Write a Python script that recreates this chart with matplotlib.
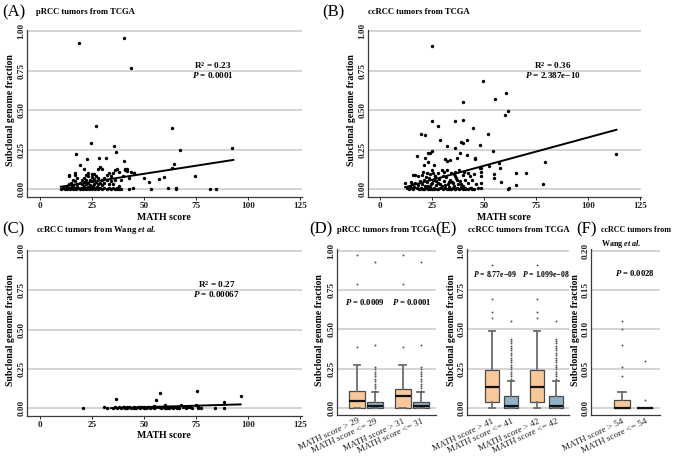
import matplotlib
matplotlib.use("Agg")
import matplotlib.pyplot as plt

plt.rcParams.update({
    "font.family": "Liberation Serif",
    "font.weight": "bold",
    "mathtext.fontset": "custom",
    "mathtext.rm": "Liberation Serif:bold",
    "mathtext.it": "Liberation Serif:italic:bold",
    "mathtext.bf": "Liberation Serif:bold",
})

# ---------------- data: scatter panels (MATH score vs subclonal fraction) ----------------
a_x = [18.9, 40.5, 43.8, 26.8, 63.6, 24.7, 35.7, 36.7, 17.3, 67.5, 92.5, 22.6, 28.5, 31.7,
       40.5, 64.4, 63.6, 74.5, 59.8, 57.4, 52.6, 49.8, 45.2, 40.9, 41.7, 81.6, 84.5, 53.5,
       61.5, 65.4, 65.4, 44.9, 42.6,
       10, 11, 12, 12.5, 13, 13.5, 14, 14.5, 15, 15.5, 16, 16.5, 17, 17.5, 18, 18.5, 19, 19.5,
       20, 20.5, 21, 21.5, 22, 22.5, 23, 23.5, 24, 24.5, 25, 25.5, 26, 26.5, 27, 27.5, 28, 28.5,
       29, 30, 31, 32, 33, 34, 35, 36, 37, 38, 39, 16, 18, 20, 22, 24, 26, 28, 30, 19, 21, 23,
       25, 27, 29, 17, 13, 14, 15, 20, 22, 24, 26, 28, 30, 32, 34, 21, 23, 25, 27, 18, 16, 14,
       14, 17, 17, 22, 23, 25, 26, 28, 29, 30, 32, 33, 35, 36, 37, 38, 40, 41, 42, 43, 44, 45,
       19, 21, 31, 35, 37, 38, 36, 34, 31, 33, 39]
a_y = [0.928, 0.960, 0.768, 0.399, 0.390, 0.289, 0.272, 0.232, 0.222, 0.249, 0.259, 0.190,
       0.200, 0.200, 0.181, 0.160, 0.131, 0.082, 0.074, 0.063, 0.042, 0.072, 0.103, 0.127,
       0.116, 0.0, 0.0, 0.0, 0.010, 0.008, 0.0, 0.010, 0.0,
       0.0, 0.005, 0.0, 0.01, 0.0, 0.005, 0.01, 0.0, 0.005, 0.02, 0.0, 0.01, 0.005, 0.0, 0.015,
       0.005, 0.0, 0.01, 0.005, 0.0, 0.02, 0.01, 0.0, 0.005, 0.015, 0.0, 0.01, 0.005, 0.0, 0.02,
       0.01, 0.0, 0.005, 0.015, 0.0, 0.01, 0.005, 0.0, 0.01, 0.0, 0.005, 0.0, 0.01, 0.0, 0.005,
       0.0, 0.0, 0.025, 0.03, 0.035, 0.03, 0.025, 0.035, 0.03, 0.025, 0.04, 0.045, 0.04, 0.05,
       0.045, 0.04, 0.05, 0.02, 0.035, 0.04, 0.06, 0.055, 0.06, 0.065, 0.07, 0.06, 0.055, 0.05,
       0.07, 0.08, 0.075, 0.085, 0.07, 0.06, 0.08, 0.09, 0.09, 0.10, 0.09, 0.10, 0.095, 0.095,
       0.13, 0.14, 0.13, 0.09, 0.10, 0.10, 0.12, 0.13, 0.11, 0.08, 0.12, 0.13, 0.07, 0.11, 0.10,
       0.15, 0.13, 0.07, 0.03, 0.0, 0.02, 0.06, 0.08, 0.04, 0.03, 0.06]
a_fit_x = [10, 93]
a_fit_y = [0.015, 0.185]

b_x = [25.0, 49.3, 60.3, 39.9, 55.1, 60.0, 61.6, 25.0, 27.9, 19.8, 21.8, 35.9, 39.9, 44.8,
       29.0, 38.7, 39.6, 41.8, 47.9, 31.9, 35.9, 51.6, 17.9, 23.1, 24.7, 23.9, 38.4, 41.8,
       45.5, 45.5, 31.1, 32.3, 33.5, 36.7, 21.8, 22.8, 21.1, 26.1, 16.7, 16.0, 20.7, 22.3,
       24.7, 25.5, 26.3, 29.5, 30.7, 35.5, 36.2, 40.3, 42.3, 45.2, 47.9, 11.8, 48.7, 43.5,
       41.0, 48.7, 54.4, 79.2, 113.5, 65.3, 65.3, 78.4, 58.3, 62.1, 61.3, 57.0, 57.6, 54.9,
       54.9, 52.5, 48.7, 48.7, 48.7, 70.0,
       13, 14, 14.5, 15, 15.5, 16, 16.5, 17, 17.5, 18, 18.5, 19, 19.5, 20, 20.5, 21, 21.5, 22,
       22.5, 23, 23.5, 24, 24.5, 25, 25.5, 26, 26.5, 27, 27.5, 28, 28.5, 29, 29.5, 30, 30.5,
       31, 31.5, 32, 32.5, 33, 33.5, 34, 34.5, 35, 35.5, 36, 36.5, 37, 37.5, 38, 38.5, 39, 40,
       41, 42, 43, 44, 45, 46, 47, 18, 20, 22, 24, 26, 28, 30, 32, 34, 36, 38, 40, 23, 25, 27,
       29, 31, 33, 35, 37, 39, 41, 43, 19, 21, 24, 26, 28, 33, 36, 40, 44, 42, 39, 15]
b_y = [0.907, 0.688, 0.610, 0.551, 0.570, 0.468, 0.492, 0.43, 0.40, 0.35, 0.34, 0.43, 0.44,
       0.39, 0.308, 0.30, 0.289, 0.308, 0.28, 0.272, 0.262, 0.348, 0.209, 0.23, 0.24, 0.23,
       0.226, 0.215, 0.196, 0.188, 0.188, 0.177, 0.183, 0.196, 0.20, 0.17, 0.15, 0.15, 0.09,
       0.09, 0.11, 0.101, 0.12, 0.10, 0.082, 0.12, 0.11, 0.095, 0.11, 0.108, 0.10, 0.098,
       0.135, 0.04, 0.004, 0.004, 0.01, 0.036, 0.240, 0.173, 0.224, 0.099, 0.025, 0.032,
       0.042, 0.004, 0.0, 0.167, 0.131, 0.097, 0.072, 0.146, 0.135, 0.108, 0.084, 0.10,
       0.01, 0.0, 0.02, 0.005, 0.03, 0.0, 0.015, 0.04, 0.005, 0.025, 0.0, 0.05, 0.01, 0.035,
       0.0, 0.06, 0.02, 0.005, 0.045, 0.0, 0.07, 0.015, 0.03, 0.0, 0.055, 0.01, 0.08, 0.025,
       0.0, 0.04, 0.065, 0.005, 0.02, 0.0, 0.05, 0.01, 0.075, 0.0, 0.03, 0.015, 0.06, 0.0,
       0.045, 0.005, 0.02, 0.0, 0.07, 0.01, 0.035, 0.0, 0.05, 0.005, 0.02, 0.0, 0.04, 0.01,
       0.06, 0.0, 0.03, 0.005, 0.085, 0.09, 0.075, 0.095, 0.06, 0.1, 0.085, 0.12, 0.1, 0.08,
       0.12, 0.09, 0.02, 0.04, 0.05, 0.035, 0.025, 0.045, 0.04, 0.055, 0.03, 0.06, 0.08, 0.0,
       0.0, 0.0, 0.0, 0.0, 0.0, 0.0, 0.0, 0.0, 0.0, 0.015, 0.045]
b_fit_x = [12, 113.5]
b_fit_y = [0.012, 0.376]

c_x = [20.8, 30.9, 32.4, 36.7, 55.6, 57.7, 75.6, 88.6, 96.6, 84.1, 88.6, 76.0, 77.6,
       35, 36, 37, 38, 39, 40, 40.5, 41, 42, 43, 44, 45, 46, 47, 48, 49, 50, 51, 52, 53, 54,
       55, 56, 57, 58, 59, 60, 61, 62, 63, 64, 65, 66, 67, 68, 69, 70, 71, 72, 73, 75, 76, 62,
       55, 50, 45, 60, 42, 66, 48, 52]
c_y = [0.0, 0.008, 0.004, 0.059, 0.051, 0.099, 0.108, 0.038, 0.080, 0.0, 0.0, 0.0, 0.0,
       0.0, 0.005, 0.0, 0.01, 0.0, 0.005, 0.01, 0.0, 0.005, 0.01, 0.0, 0.005, 0.0, 0.01, 0.0,
       0.005, 0.01, 0.0, 0.005, 0.0, 0.01, 0.0, 0.005, 0.01, 0.0, 0.005, 0.02, 0.0, 0.005,
       0.01, 0.0, 0.005, 0.01, 0.0, 0.02, 0.005, 0.0, 0.01, 0.005, 0.0, 0.02, 0.01, 0.0,
       0.015, 0.0, 0.0, 0.0, 0.0, 0.0, 0.01, 0.01]
c_fit_x = [34, 96.5]
c_fit_y = [0.0, 0.024]

# ---------------- data: box panels ----------------
d_labels = ["MATH score > 29", "MATH score <= 29", "MATH score > 31", "MATH score <= 31"]
d_q1 = [0.0, 0.0, 0.0, 0.0]
d_med = [0.042, 0.012, 0.074, 0.012]
d_q3 = [0.11, 0.04, 0.123, 0.04]
d_lo = [0.0, 0.0, 0.0, 0.0]
d_hi = [0.27, 0.10, 0.27, 0.10]
d_low_out = [0.11, 0.125, 0.14, 0.155, 0.17, 0.185, 0.20, 0.215, 0.23, 0.245, 0.26, 0.40, 0.93]
d_fliers = [[0.39, 0.79, 0.97], d_low_out, [0.39, 0.79, 0.97], d_low_out]

e_labels = ["MATH score > 41", "MATH score <= 41", "MATH score > 42", "MATH score <= 42"]
e_q1 = [0.038, 0.0, 0.038, 0.0]
e_med = [0.134, 0.015, 0.134, 0.015]
e_q3 = [0.238, 0.074, 0.244, 0.074]
e_lo = [0.0, 0.0, 0.0, 0.0]
e_hi = [0.49, 0.172, 0.49, 0.172]
e_low_out = [0.185, 0.2, 0.215, 0.23, 0.245, 0.26, 0.275, 0.29, 0.305, 0.32, 0.335, 0.35,
             0.365, 0.38, 0.395, 0.41, 0.425, 0.44, 0.555]
e_fliers = [[0.57, 0.61, 0.69, 0.91], e_low_out, [0.57, 0.61, 0.69, 0.91], e_low_out]

f_labels = ["MATH score > 54", "MATH score <= 54"]
f_q1 = [0.0, 0.0]
f_med = [0.0, 0.0]
f_q3 = [0.01, 0.0]
f_lo = [0.0, 0.0]
f_hi = [0.02, 0.0]
f_fliers = [[0.04, 0.052, 0.08, 0.10, 0.11], [0.01, 0.06]]

W, H = 676, 462
ORANGE = "#f8c89b"
BLUE = "#8fb4c9"
GRID = "#c9c9c9"
FS = 6.6

fig = plt.figure(figsize=(W / 100, H / 100), dpi=100)


def px_axes(left, right, top, bottom):
    return fig.add_axes([left / W, 1 - bottom / H, (right - left) / W, (bottom - top) / H])


def style(ax, yticks, ylabels, tick_len=2):
    for s in ["top", "right"]:
        ax.spines[s].set_visible(False)
    for s in ["left", "bottom"]:
        ax.spines[s].set_color("#3a3a3a")
        ax.spines[s].set_linewidth(0.9)
    ax.set_yticks(yticks)
    ax.set_yticklabels(ylabels, rotation=90, va="center")
    ax.yaxis.grid(True, color=GRID, lw=1.1)
    ax.set_axisbelow(True)
    ax.tick_params(axis="y", labelsize=FS, length=0, pad=1.2, colors="#222222")
    ax.tick_params(axis="x", labelsize=FS, length=tick_len, width=0.7, pad=1.5,
                   colors="#222222")


def fig_text(x, y, s, **kw):
    fig.text(x / W, 1 - y / H, s, **kw)


yt = [0, 0.25, 0.5, 0.75, 1.0]
yl = ["0.00", "0.25", "0.50", "0.75", "1.00"]


def scatter_panel(ax, xs, ys, fx, fy, xlim, r2, p, tx):
    ax.scatter(xs, ys, s=6, c="black", lw=0, zorder=3)
    ax.plot(fx, fy, color="black", lw=1.4, zorder=4)
    ax.set_xlim(*xlim)
    ax.set_ylim(-0.05, 1.008)
    ax.set_xticks([0, 25, 50, 75, 100, 125])
    style(ax, yt, yl)
    ax.text(tx, 0.785, r"R$^{2}$ = " + r2, ha="center", va="center", fontsize=FS)
    ax.text(tx, 0.725, r"$P$ = " + p, ha="center", va="center", fontsize=FS)


ax_a = px_axes(27, 302, 30, 197)
scatter_panel(ax_a, a_x, a_y, a_fit_x, a_fit_y, (-6.25, 126), "0.23", "0.0001", 83)
ax_b = px_axes(368, 641, 30, 197)
scatter_panel(ax_b, b_x, b_y, b_fit_x, b_fit_y, (-5.8, 125.3), "0.36", "2.387e\u221210", 83)
ax_c = px_axes(27, 302, 250, 416)
scatter_panel(ax_c, c_x, c_y, c_fit_x, c_fit_y, (-6.25, 126), "0.27", "0.00067", 85)

for x, y in [(11, 110), (352, 110), (11, 330), (319, 330), (452, 330), (576, 330)]:
    fig_text(x, y, "Subclonal genome fraction", rotation=90, ha="center", va="center",
             fontsize=7)
for x, y in [(164, 217), (504, 217), (164, 436)]:
    fig_text(x, y, "MATH score", ha="center", va="center", fontsize=7)


def box_panel(ax, pos, width, labels, q1, med, q3, lo, hi, fliers, xlim, ylim, colors):
    stats = []
    for i in range(len(labels)):
        stats.append(dict(label=labels[i], q1=q1[i], med=med[i], q3=q3[i],
                          whislo=lo[i], whishi=hi[i], fliers=fliers[i]))
    bp = ax.bxp(stats, positions=pos, widths=width, patch_artist=True,
                capwidths=[width * 0.45] * len(pos),
                boxprops=dict(edgecolor="#4a4a4a", lw=0.9),
                medianprops=dict(color="#111111", lw=1.6),
                whiskerprops=dict(color="#6d6d6d", lw=1.3),
                capprops=dict(color="#6d6d6d", lw=1.3),
                flierprops=dict(marker="o", markersize=1.4, markerfacecolor="#555555",
                                markeredgewidth=0, linestyle="none"))
    for patch, col in zip(bp["boxes"], colors):
        patch.set_facecolor(col)
    ax.set_xlim(*xlim)
    ax.set_ylim(*ylim)
    ax.set_xticks(pos)
    ax.set_xticklabels(labels, rotation=25, ha="right", rotation_mode="anchor",
                       fontweight="normal")


ax_d = px_axes(337, 436, 249, 415)
box_panel(ax_d, [1, 2, 3.55, 4.55], 0.85, d_labels, d_q1, d_med, d_q3, d_lo, d_hi,
          d_fliers, (-0.11, 5.39), (-0.045, 1.01), [ORANGE, BLUE, ORANGE, BLUE])
style(ax_d, yt, yl, tick_len=0)
ax_d.text(1.45, 0.675, r"$P$ = 0.0009", ha="center", va="center", fontsize=6.2)
ax_d.text(4.05, 0.675, r"$P$ = 0.0001", ha="center", va="center", fontsize=6.2)

ax_e = px_axes(467, 569, 249, 415)
box_panel(ax_e, [1, 2, 3.37, 4.37], 0.75, e_labels, e_q1, e_med, e_q3, e_lo, e_hi,
          e_fliers, (-0.32, 5.05), (-0.045, 1.01), [ORANGE, BLUE, ORANGE, BLUE])
style(ax_e, yt, yl, tick_len=0)
ax_e.text(1.15, 0.853, "$P$ = 8.77e\u221209", ha="center", va="center", fontsize=5.6)
ax_e.text(3.85, 0.853, "$P$ = 1.099e\u221208", ha="center", va="center", fontsize=5.6)

ax_f = px_axes(591, 660, 249, 415)
box_panel(ax_f, [1, 2], 0.7, f_labels, f_q1, f_med, f_q3, f_lo, f_hi,
          f_fliers, (-0.35, 2.65), (-0.009, 0.202), [ORANGE, BLUE])
style(ax_f, [0, 0.05, 0.10, 0.15, 0.20], ["0.00", "0.05", "0.10", "0.15", "0.20"],
      tick_len=0)
ax_f.text(1.57, 0.171, r"$P$ = 0.0028", ha="center", va="center", fontsize=6.2)

# panel letters and titles
for x, y, s in [(2, 12, "(A)"), (322, 12, "(B)"), (2, 229, "(C)"), (309, 229, "(D)"),
                (435, 229, "(E)"), (576, 229, "(F)")]:
    fig_text(x, y, s, fontsize=12, fontweight="normal", va="center")
for x, y, s in [(36, 12, "pRCC tumors from TCGA"), (368, 12, "ccRCC tumors from TCGA"),
                (36, 230, r"ccRCC tumors from Wang $et\ al.$"),
                (337, 230, "pRCC tumors from TCGA"), (468, 230, "ccRCC tumors from TCGA")]:
    fig_text(x, y, s, fontsize=6.2, va="center")
for x, y, s in [(601, 230, "ccRCC tumors from"), (601, 244, r"Wang $et\ al.$")]:
    fig_text(x, y, s, fontsize=5.8, va="center")

fig.savefig("out.png", dpi=100)
